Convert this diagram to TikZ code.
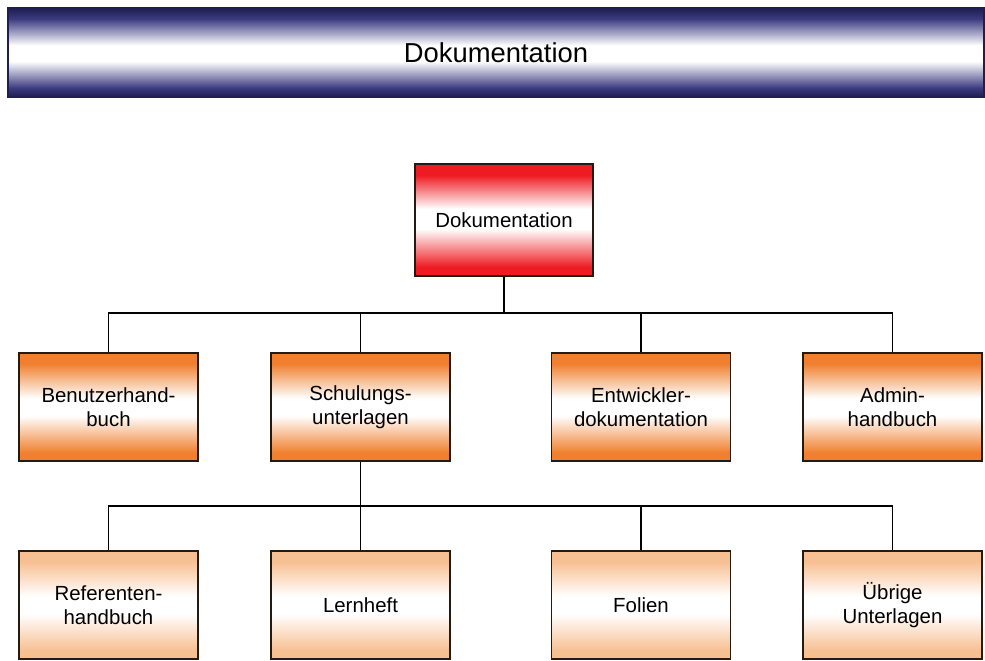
\documentclass[tikz,border=0pt]{standalone}
\usepackage{fontspec}
\setmainfont{Liberation Sans}

% vertical bands: strong colour at top and bottom, white in the middle
% (TikZ maps a shape onto the 25bp..75bp part of a 100bp shading)
\definecolor{bandnavy}{RGB}{58,58,128}
\definecolor{bandnavydark}{RGB}{30,30,80}
\definecolor{bandred}{RGB}{238,28,34}
\definecolor{bandorange}{RGB}{240,128,48}
\definecolor{bandpeach}{RGB}{247,192,146}
\definecolor{edgecol}{RGB}{36,26,20}

\pgfdeclareverticalshading{navyband}{100bp}{%
  color(0bp)=(bandnavydark); color(25bp)=(bandnavydark); color(30bp)=(bandnavy);
  color(45bp)=(white); color(54bp)=(white); color(69bp)=(bandnavy);
  color(75bp)=(bandnavydark); color(100bp)=(bandnavydark)}
\pgfdeclareverticalshading{redband}{100bp}{%
  color(0bp)=(bandred); color(29bp)=(bandred); color(46bp)=(white);
  color(55bp)=(white); color(70bp)=(bandred); color(100bp)=(bandred)}
\pgfdeclareverticalshading{orangeband}{100bp}{%
  color(0bp)=(bandorange); color(29bp)=(bandorange); color(46bp)=(white);
  color(54bp)=(white); color(70bp)=(bandorange); color(100bp)=(bandorange)}
\pgfdeclareverticalshading{peachband}{100bp}{%
  color(0bp)=(bandpeach); color(29bp)=(bandpeach); color(46bp)=(white);
  color(54bp)=(white); color(70bp)=(bandpeach); color(100bp)=(bandpeach)}

\tikzset{
  box/.style={draw=edgecol, line width=1.2bp, shade, align=center,
    minimum width=179bp, minimum height=108bp, inner sep=0pt,
    font=\fontsize{20.5}{24}\selectfont},
  rootbox/.style={box, shading=redband, minimum width=178bp, minimum height=112bp},
  mainbox/.style={box, shading=orangeband},
  subbox/.style={box, shading=peachband},
  link/.style={draw=black, line width=1.2bp}
}

\begin{document}
\begin{tikzpicture}[x=1bp, y=-1bp]
  \useasboundingbox (0,0) rectangle (985,661);

  % title banner
  \node[draw=bandnavydark, line width=1.2bp, shade, shading=navyband,
        minimum width=976bp, minimum height=89bp, inner sep=0pt,
        font=\fontsize{27.5}{32}\selectfont] (banner) at (496,52.5) {Dokumentation};

  % tree
  \node[rootbox] (root) at (504,220) {Dokumentation};

  \node[mainbox] (m1) at (108.5,407) {Benutzerhand-\\buch};
  \node[mainbox] (m2) at (360.5,407) {Schulungs-\\unterlagen};
  \node[mainbox] (m3) at (641,407)   {Entwickler-\\dokumentation};
  \node[mainbox] (m4) at (892.5,407) {Admin-\\handbuch};

  \node[subbox] (s1) at (108.5,605) {Referenten-\\handbuch};
  \node[subbox] (s2) at (360.5,605) {Lernheft};
  \node[subbox] (s3) at (641,605)   {Folien};
  \node[subbox] (s4) at (892.5,605) {Übrige\\Unterlagen};

  % first level connectors
  \coordinate (j1) at (504,313);
  \draw[link] (root.south) -- (j1);
  \draw[link] (m1.north) |- (j1) -| (m4.north);
  \draw[link] (m2.north) -- (m2.north |- j1);
  \draw[link] (m3.north) -- (m3.north |- j1);

  % second level connectors
  \coordinate (j2) at (360.5,506);
  \draw[link] (m2.south) -- (s2.north);
  \draw[link] (s1.north) |- (j2) -| (s4.north);
  \draw[link] (s3.north) -- (s3.north |- j2);
\end{tikzpicture}
\end{document}
